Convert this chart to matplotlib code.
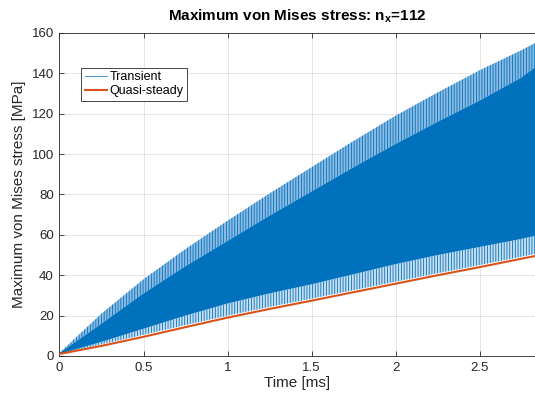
import numpy as np
import matplotlib
matplotlib.use('Agg')
import matplotlib.pyplot as plt
from matplotlib.lines import Line2D

plt.rcParams['font.family'] = ['Liberation Sans', 'DejaVu Sans']
plt.rcParams['mathtext.fontset'] = 'custom'
plt.rcParams['mathtext.rm'] = 'Liberation Sans'
plt.rcParams['mathtext.bf'] = 'Liberation Sans:bold'
plt.rcParams['hatch.linewidth'] = 0.6
plt.rcParams['hatch.color'] = '#0072BD'

#### values ####
t = [0, 0.25, 0.5, 0.75, 1.0, 1.25, 1.5, 1.75, 2.0, 2.25, 2.5, 2.75, 2.83]
# transient: envelope of the oscillation (MPa)
hi_peak = [1.5, 21, 38, 53, 67, 80.5, 93.5, 106.5, 119, 130.5, 141.5, 151.5, 155]
hi_core = [1.5, 16, 31, 44.5, 57, 69.5, 81.5, 93.5, 105, 116, 126.5, 138, 143]
lo_core = [1.0, 7.0, 13.5, 20, 26, 31, 35.5, 40.5, 45.5, 50, 54, 58, 59.5]
lo_peak = [1.0, 5.8, 10.5, 15.3, 20, 24.3, 28.4, 32.6, 36.8, 41, 45, 49.2, 50.5]
# quasi-steady response (MPa)
quasi = [1.0, 5.0, 9.5, 14.3, 19.0, 23.3, 27.4, 31.6, 35.8, 40.0, 44.0, 48.2, 49.5]

blue = '#0072BD'
orange = '#D95319'
axcol = '#262626'

fig = plt.figure(figsize=(5.35, 3.99), dpi=100)
ax = fig.add_axes([0.1112, 0.1078, 0.8888, 0.8095])

# transient band: striped fringes + dense core
ax.fill_between(t, hi_core, hi_peak, facecolor='#8dbbe2', edgecolor=blue,
                hatch='||||||', linewidth=0, zorder=2)
ax.fill_between(t, lo_peak, lo_core, facecolor='#c9def1', edgecolor=blue,
                hatch='||||||', linewidth=0, zorder=2)
ax.fill_between(t, lo_core, hi_core, facecolor=blue, linewidth=0, zorder=2)
ax.plot(t, quasi, color=orange, lw=1.5, zorder=3)

ax.set_xlim(0, 2.83)
ax.set_ylim(0, 160)
ax.set_xticks([0, 0.5, 1, 1.5, 2, 2.5])
ax.set_xticklabels(['0', '0.5', '1', '1.5', '2', '2.5'])
ax.set_yticks(np.arange(0, 161, 20))

ax.grid(True, color='#e1e1e1', lw=0.6, zorder=0)
ax.set_axisbelow(True)
ax.tick_params(direction='in', length=3.5, width=0.6, colors=axcol,
               labelsize=9.5, top=True, right=False, pad=4)
for s in ['left', 'bottom', 'top']:
    ax.spines[s].set_color(axcol)
    ax.spines[s].set_linewidth(0.6)
ax.spines['right'].set_visible(False)

ax.set_xlabel('Time [ms]', fontsize=11, color=axcol, labelpad=2)
ax.set_ylabel('Maximum von Mises stress [MPa]', fontsize=11, color=axcol, labelpad=4)
ax.set_title(r'Maximum von Mises stress: n$_\mathbf{x}$=112', fontsize=11,
             fontweight='bold', color='black', pad=9)

handles = [Line2D([], [], color='#4a98d3', lw=0.7),
           Line2D([], [], color=orange, lw=1.5)]
leg = ax.legend(handles, ['Transient', 'Quasi-steady'], loc='upper left',
                bbox_to_anchor=(0.045, 0.893), borderaxespad=0, fontsize=9,
                fancybox=False, framealpha=1, edgecolor=axcol,
                handlelength=1.8, handletextpad=0.2, borderpad=0.3,
                labelspacing=0.15)
leg.get_frame().set_linewidth(0.6)

fig.savefig('out.png', dpi=100)
